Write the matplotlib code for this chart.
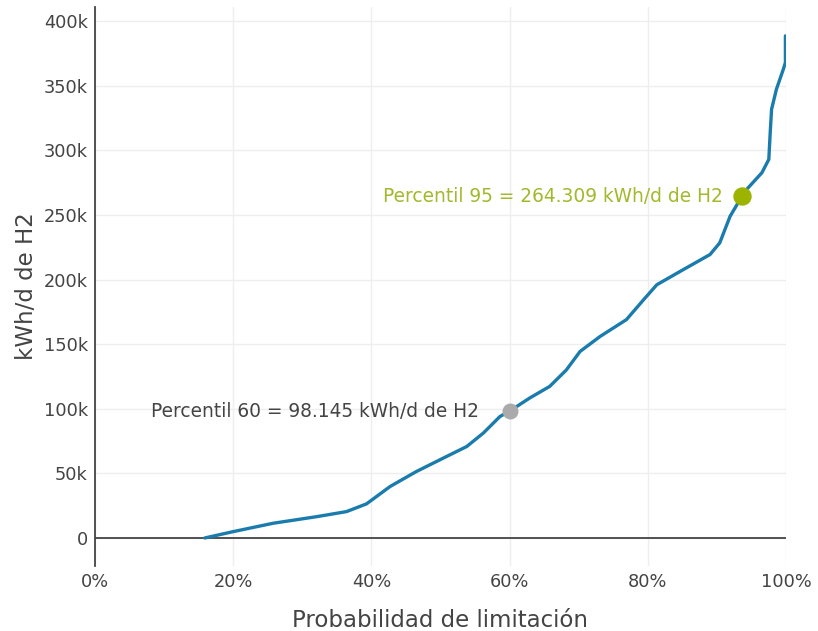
import matplotlib
matplotlib.use('Agg')
import matplotlib.pyplot as plt
from matplotlib.ticker import FuncFormatter

# curve: probability (%) vs kWh/d de H2
prob = [15.9, 20, 25.8, 32.1, 36.4, 39.3, 42.7, 46.5, 50.4, 53.8, 56.2, 58.6,
        60, 62.9, 65.8, 68.2, 70.2, 73.1, 76.9, 79.4, 81.3, 84.7, 89, 90.4,
        91.9, 93.6, 94.3, 96.5, 97.5, 97.7, 97.9, 98.6, 99.6, 99.9, 99.9]
energy = [0, 4900, 11400, 16500, 20400, 26400, 39800, 51400, 61800, 70800,
          81200, 94000, 98145, 108300, 117300, 130000, 144400, 156000, 169000,
          184500, 196000, 206400, 219400, 228400, 249000, 264309, 269800,
          282700, 293000, 313700, 331800, 347300, 362800, 368000, 388600]

p60 = (60, 98145)
p95 = (93.6, 264309)
label60 = 'Percentil 60 = 98.145 kWh/d de H2'
label95 = 'Percentil 95 = 264.309 kWh/d de H2'

xticks = [0, 20, 40, 60, 80, 100]
yticks = [0, 50000, 100000, 150000, 200000, 250000, 300000, 350000, 400000]

plt.rcParams['font.family'] = ['DejaVu Sans']
text_col = '#444444'

fig = plt.figure(figsize=(8.18, 6.31), dpi=100)
ax = fig.add_axes([0.116, 0.103, 0.845, 0.886])

ax.plot(prob, energy, color='#1a7bad', linewidth=2.4, solid_capstyle='round',
        solid_joinstyle='round', zorder=3)
ax.scatter([p60[0]], [p60[1]], s=110, color='#aaaaaa', zorder=4)
ax.scatter([p95[0]], [p95[1]], s=150, color='#9cb400', zorder=4)
ax.annotate(label60, p60, xytext=(-22, 0), textcoords='offset points',
            ha='right', va='center', fontsize=13.4, color=text_col)
ax.annotate(label95, p95, xytext=(-13.5, 0), textcoords='offset points',
            ha='right', va='center', fontsize=13.4, color='#a3b82b')

ax.set_xlim(0, 100)
ax.set_ylim(-21700, 411000)
ax.set_xticks(xticks)
ax.set_yticks(yticks)
ax.xaxis.set_major_formatter(FuncFormatter(lambda v, _: f'{v:.0f}%'))
ax.yaxis.set_major_formatter(FuncFormatter(lambda v, _: '0' if v == 0 else f'{v/1000:.0f}k'))
ax.tick_params(length=0, labelsize=12.8, labelcolor=text_col, pad=5)

ax.grid(True, color='#eeeeee', linewidth=1)
ax.set_axisbelow(True)
ax.axhline(0, color='#444444', linewidth=1.3, zorder=2)
for side in ['top', 'right', 'bottom']:
    ax.spines[side].set_visible(False)
ax.spines['left'].set_color('#444444')
ax.spines['left'].set_linewidth(1.3)

ax.set_xlabel('Probabilidad de limitación', fontsize=16.5, color=text_col, labelpad=13)
ax.set_ylabel('kWh/d de H2', fontsize=16.5, color=text_col, labelpad=4)

fig.savefig('out.png', dpi=100)
